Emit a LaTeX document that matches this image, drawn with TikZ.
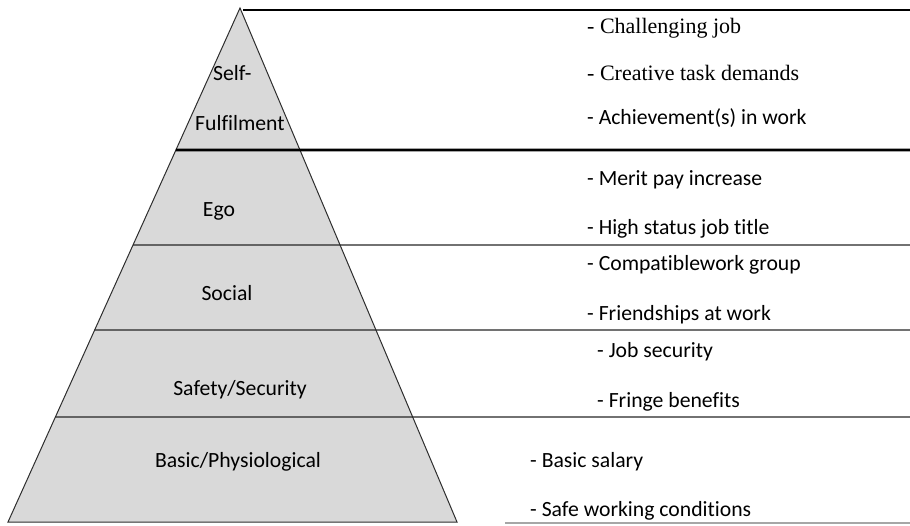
\documentclass[tikz,border=0pt]{standalone}
\usepackage{fontspec}
\setmainfont{Carlito}[Ligatures=NoCommon]
\newfontfamily\itemserif{Liberation Serif}
\usetikzlibrary{calc}
\definecolor{pyrFill}{HTML}{D9D9D9}
\definecolor{pyrEdge}{HTML}{2E2E2E}

\begin{document}
\begin{tikzpicture}[x=1pt, y=-1pt,
  level/.style={font=\fontsize{21.7}{26}\selectfont, anchor=base, inner sep=0pt},
  item/.style={font=\fontsize{21.7}{26}\selectfont, anchor=base west, inner sep=0pt},
  sitem/.style={item, font=\itemserif\fontsize{22}{26}\selectfont},
  bar/.style={line width=1.3pt, black!85},
  heavybar/.style={line width=2.6pt, black}]
\useasboundingbox (0,0) rectangle (910,525);

% pyramid
\coordinate (apex) at (240,8);
\coordinate (bl) at (8,522);
\coordinate (br) at (457,522);
\filldraw[fill=pyrFill, draw=pyrEdge, line width=1pt] (apex) -- (bl) -- (br) -- cycle;

% level boundaries, running out to the right edge
\draw[heavybar] (243,10) -- (910,10);
\foreach \y/\s in {150/heavybar, 245/bar, 330/bar, 417/bar}
  \draw[\s] ($(apex)!{(\y-8)/514}!(bl)$) -- (910,\y);
\draw[line width=1.5pt, gray!70] (505,523) -- (910,523);

% level names
\node[item] (self1) at (213,80) {Self-};
\node[item] (self2) at (195,130) {Fulfilment};
\node[level] (ego) at (219,216) {Ego};
\node[level] (soc) at (227,300) {Social};
\node[level] (safe) at (240,395) {Safety/Security};
\node[level] (basic) at (238,467) {Basic/Physiological};

% examples per level
\node[sitem] (i1) at (587,33) {- Challenging job};
\node[sitem] (i2) at (587,80) {- Creative task demands};
\node[item] (i3) at (587,124) {- Achievement(s) in work};
\node[item] (i4) at (587,185) {- Merit pay increase};
\node[item] (i5) at (587,234) {- High status job title};
\node[item] (i6) at (587,270) {- Compatiblework group};
\node[item] (i7) at (587,320) {- Friendships at work};
\node[item] (i8) at (597,357) {- Job security};
\node[item] (i9) at (597,407) {- Fringe benefits};
\node[item] (i10) at (530,467) {- Basic salary};
\node[item] (i11) at (530,516) {- Safe working conditions};
\end{tikzpicture}
\end{document}
